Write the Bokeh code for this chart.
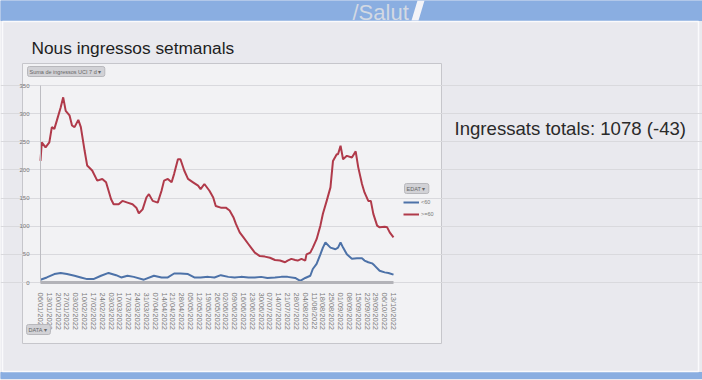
import pandas as pd
from bokeh.plotting import figure
from bokeh.models import (Range1d, Label, Legend, LegendItem, LinearAxis, DatetimeAxis, Grid,
                          FixedTicker, DatetimeTickFormatter, ColumnDataSource)
from bokeh.embed import file_html
from bokeh.resources import INLINE

# ---------------- data ----------------
start_date = "2022-01-06"
tick_step_days = 7
n_ticks = 41
y_ticks = [0, 50, 100, 150, 200, 250, 300, 350]

red_day = [0, 1, 4, 7, 9, 11, 13, 16, 18, 20, 23, 25, 27, 30, 32, 35, 37, 41, 45, 49,
           52, 56, 58, 62, 65, 69, 73, 76, 78, 81, 84, 86, 89, 93, 96, 98, 101, 104, 106, 109,
           111, 114, 117, 121, 125, 127, 130, 134, 137, 139, 143, 147, 150, 153, 155, 158, 161, 165, 167, 170,
           174, 178, 182, 186, 190, 194, 196, 199, 202, 204, 207, 210, 211, 214, 216, 219, 222, 224, 227, 230,
           232, 235, 236, 238, 240, 243, 247, 250, 252, 255, 257, 260, 262, 264, 267, 269, 273, 275, 277, 280]
red_val = [216, 249, 240, 249, 276, 273, 288, 311, 329, 305, 297, 279, 276, 289, 276, 234, 208, 199, 181, 184,
           178, 148, 139, 139, 145, 142, 139, 133, 123, 130, 151, 157, 145, 142, 163, 181, 184, 178, 193, 219,
           219, 199, 184, 178, 172, 166, 175, 163, 151, 136, 133, 133, 128, 116, 104, 89, 80, 68, 62, 53,
           47, 46, 44, 40, 39, 36, 39, 42, 40, 39, 42, 39, 50, 53, 62, 77, 101, 122, 145, 169,
           216, 228, 228, 243, 219, 225, 222, 233, 205, 175, 160, 145, 145, 122, 101, 98, 99, 98, 89, 80]

blue_day = [0, 5, 11, 16, 21, 27, 32, 37, 42, 48, 54, 60, 64, 69, 74, 82, 90, 96, 101, 106,
            111, 117, 122, 127, 133, 138, 143, 149, 154, 159, 165, 170, 175, 180, 186, 191, 196, 202, 206, 210,
            214, 216, 219, 222, 224, 226, 230, 234, 236, 238, 240, 243, 247, 251, 255, 257, 260, 263, 265, 269,
            273, 276, 280]
blue_val = [5, 9, 15, 17, 15, 12, 9, 6, 6, 12, 17, 13, 9, 12, 10, 5, 12, 9, 9, 16,
            16, 15, 9, 9, 10, 9, 13, 10, 9, 10, 9, 9, 10, 8, 9, 10, 10, 8, 3, 8,
            12, 24, 33, 50, 62, 71, 62, 59, 62, 71, 62, 50, 42, 43, 43, 39, 36, 34, 30, 21,
            18, 17, 14]

series_labels = ["<60", ">=60"]
title_text = "Nous ingressos setmanals"
total_text = "Ingressats totals: 1078 (-43)"
header_text = "/Salut"
# --------------------------------------

W, H = 702, 380
# pixel box of the chart's plotting area on the slide
PL, PR, PT, PB = 40, 393, 85, 282

t0 = pd.Timestamp(start_date)
t0_ms = t0.value / 1e6
span_ms = tick_step_days * (n_ticks - 1) * 86400000.0
tend_ms = t0_ms + span_ms
ymax = y_ticks[-1]

red_x = [t0 + pd.Timedelta(days=d) for d in red_day]
blue_x = [t0 + pd.Timedelta(days=d) for d in blue_day]
tick_ms = [t0_ms + i * tick_step_days * 86400000.0 for i in range(n_ticks)]

SLIDE = "#e9e9ee"
CHART = "#f2f2f4"
BLUE_BAR = "#8aaee1"

p = figure(width=W, height=H, x_range=Range1d(0, W), y_range=Range1d(H, 0),
           x_axis_location=None, y_axis_location=None, title=None,
           output_backend="svg", toolbar_location=None,
           min_border=0, min_border_left=0, min_border_right=0, min_border_top=0, min_border_bottom=0)
p.background_fill_color = SLIDE
p.border_fill_color = SLIDE
p.outline_line_color = None
p.xgrid.visible = False
p.ygrid.visible = False

# data ranges mapped onto the chart area
ms_per_px = span_ms / (PR - PL)
val_per_px = ymax / (PB - PT)
p.extra_x_ranges = {"data": Range1d(t0_ms - PL * ms_per_px, tend_ms + (W - PR) * ms_per_px)}
p.extra_y_ranges = {"data": Range1d(0 - (H - PB) * val_per_px, ymax + PT * val_per_px)}

# slide decorations (pixel coordinates)
deco = ColumnDataSource(dict(
    left=[0, 0, 22], right=[W, W, 441], top=[0, 372, 63], bottom=[20, 378, 343],
    fill=[BLUE_BAR, BLUE_BAR, CHART], line=[BLUE_BAR, BLUE_BAR, "#c6c6cb"]))
p.quad(left="left", right="right", top="top", bottom="bottom", source=deco,
       fill_color="fill", line_color="line", line_width=1, level="image")
p.quad(left=[2], right=[698], top=[21], bottom=[371], fill_alpha=0,
       line_color="#fafafc", line_width=1.5, level="image")
p.patch(x=[417, 424, 418, 411], y=[0, 0, 20, 20], fill_color="#f4f4f8", line_color=None, level="image")

p.add_layout(Label(x=352, y=11.5, text=header_text,
                   text_font="Liberation Sans", text_font_size="22px", text_color="#d3d9e3",
                   text_baseline="middle"))
p.add_layout(Label(x=31, y=47, text=title_text,
                   text_font="Liberation Sans", text_font_size="17.3px", text_color="#1e1e1e",
                   text_baseline="middle"))
p.add_layout(Label(x=454, y=128, text=total_text,
                   text_font="Liberation Sans", text_font_size="18.6px", text_color="#2a2a2a",
                   text_baseline="middle"))

def button(px, py, txt):
    p.add_layout(Label(x=px, y=py, text=txt,
                       text_font="Liberation Sans", text_font_size="5.5px", text_color="#666666",
                       text_baseline="middle", background_fill_color="#d2d2d6",
                       border_line_color="#b8b8bc", padding=2, border_radius=2))

button(27, 71, "Suma de ingressos UCI 7 d  ▾")
button(26, 329, "DATA  ▾")
button(404, 188, "EDAT  ▾")

# grid
grid = Grid(dimension=1, ticker=FixedTicker(ticks=y_ticks), x_range_name="data", y_range_name="data",
            bounds=(t0_ms, tend_ms), grid_line_color="#d9d9dd")
p.add_layout(grid)

# axes placed at the chart area
yaxis = LinearAxis(x_range_name="data", y_range_name="data", fixed_location=t0_ms,
                   bounds=(0, ymax), ticker=FixedTicker(ticks=y_ticks))
yaxis.axis_line_color = "#bdbdc2"
yaxis.major_tick_line_color = None
yaxis.minor_tick_line_color = None
yaxis.major_label_text_font_size = "6px"
yaxis.major_label_text_color = "#777777"
yaxis.major_label_text_font = "Liberation Sans"
yaxis.major_label_standoff = 5
p.add_layout(yaxis, "left")

fmt = "%d/%m/%Y"
xaxis = DatetimeAxis(x_range_name="data", y_range_name="data", fixed_location=0,
                     bounds=(t0_ms, tend_ms), ticker=FixedTicker(ticks=tick_ms),
                     formatter=DatetimeTickFormatter(milliseconds=fmt, seconds=fmt, minsec=fmt, minutes=fmt,
                                                     hourmin=fmt, hours=fmt, days=fmt, months=fmt, years=fmt))
xaxis.major_label_orientation = "vertical"
xaxis.axis_line_color = "#b3b3b8"
xaxis.axis_line_width = 3
xaxis.major_tick_line_color = None
xaxis.minor_tick_line_color = None
xaxis.major_label_text_font_size = "7.5px"
xaxis.major_label_text_color = "#7a7a7a"
xaxis.major_label_text_font = "Liberation Sans"
xaxis.major_label_standoff = 4
p.add_layout(xaxis, "below")

blue_src = ColumnDataSource(dict(x=blue_x, y=blue_val))
red_src = ColumnDataSource(dict(x=red_x, y=red_val))
rb = p.line("x", "y", source=blue_src, x_range_name="data", y_range_name="data",
            line_color="#4d72a8", line_width=2)
rr = p.line("x", "y", source=red_src, x_range_name="data", y_range_name="data",
            line_color="#b03a4a", line_width=2)

legend = Legend(items=[LegendItem(label=series_labels[0], renderers=[rb]),
                       LegendItem(label=series_labels[1], renderers=[rr])],
                location=(403, H - 218), padding=0, margin=0, spacing=4,
                glyph_width=16, glyph_height=8, label_height=8, label_standoff=2,
                label_text_font_size="5.5px", label_text_color="#777777",
                background_fill_alpha=0, border_line_color=None)
p.add_layout(legend)

open("out.html", "w").write(file_html(p, INLINE))
